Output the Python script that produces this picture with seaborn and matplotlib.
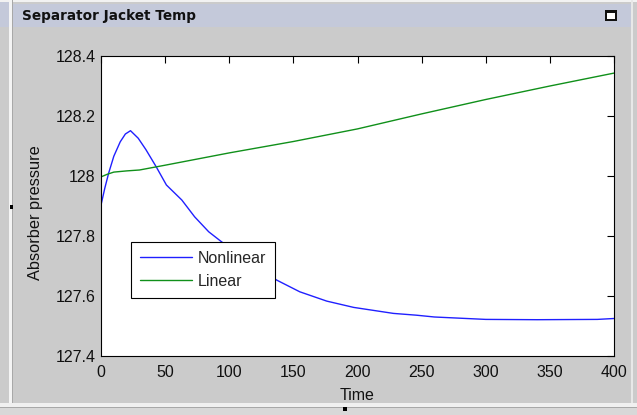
import matplotlib
matplotlib.use("Agg")
import matplotlib.pyplot as plt
from matplotlib.patches import Rectangle
import pandas as pd
import seaborn as sns

# Simulated absorber pressure responses
time_nonlinear = [0, 3, 6, 10, 15, 19, 23, 29, 35, 43, 51, 63, 73, 84, 93,
                  105, 120, 137, 155, 176, 197, 228, 246, 260, 275, 300, 340, 387, 400]
pressure_nonlinear = [127.903, 127.96, 128.01, 128.066, 128.114, 128.14, 128.151,
                      128.126, 128.088, 128.031, 127.97, 127.92, 127.864, 127.814,
                      127.784, 127.745, 127.70, 127.653, 127.614, 127.583, 127.562,
                      127.542, 127.536, 127.53, 127.527, 127.522, 127.521, 127.522,
                      127.525]

time_linear = [0, 5, 10, 20, 30, 50, 100, 150, 200, 250, 300, 350, 400]
pressure_linear = [127.997, 128.006, 128.013, 128.017, 128.02, 128.036, 128.077,
                   128.115, 128.157, 128.207, 128.255, 128.30, 128.343]

x_ticks = [0, 50, 100, 150, 200, 250, 300, 350, 400]
y_ticks = [127.4, 127.6, 127.8, 128.0, 128.2, 128.4]
y_tick_labels = ["127.4", "127.6", "127.8", "128", "128.2", "128.4"]

df = pd.concat([
    pd.DataFrame({"Time": time_nonlinear, "Pressure": pressure_nonlinear, "Model": "Nonlinear"}),
    pd.DataFrame({"Time": time_linear, "Pressure": pressure_linear, "Model": "Linear"}),
], ignore_index=True)

sns.set_theme(style="white")
plt.rcParams["font.family"] = ["Liberation Sans", "DejaVu Sans"]

W, H = 637, 415
fig = plt.figure(figsize=(W / 100, H / 100), dpi=100)
fig.patch.set_facecolor("#cbcbcb")


def px_rect(x0, y0, x1, y1, color, z=0):
    fig.patches.append(Rectangle((x0 / W, 1 - y1 / H), (x1 - x0) / W, (y1 - y0) / H,
                                 transform=fig.transFigure, facecolor=color,
                                 edgecolor="none", zorder=z))


# window frame
px_rect(0, 0, W, 2, "#f2f2f2")
px_rect(0, 2, 9, 27, "#c4c9da")
px_rect(9, 0, 12, H, "#f4f4f4")
px_rect(12, 0, 13, H, "#a8a8a8")
px_rect(13, 4, 631, 27, "#c4c9da")
px_rect(631, 0, 633, H, "#e8e8e8")
px_rect(0, 403, W, 407, "#f0f0f0")
px_rect(0, 407, W, 408, "#a8a8a8")
px_rect(0, 408, W, H, "#d8d8d8")
# window button and resize handles
px_rect(605, 10, 617, 21, "#111111", 1)
px_rect(607, 13, 615, 19, "#ffffff", 2)
px_rect(10, 205, 13, 209, "#000000", 2)
px_rect(343, 407, 347, 411, "#000000", 2)

fig.text(22 / W, 1 - 16 / H, "Separator Jacket Temp", fontsize=9.8, fontweight="bold",
         family=["DejaVu Sans"], va="center", ha="left", color="#111111")

ax = fig.add_axes([101 / W, 1 - 356 / H, (614 - 101) / W, (356 - 56) / H])
sns.lineplot(data=df, x="Time", y="Pressure", hue="Model",
             palette={"Nonlinear": "#2020ff", "Linear": "#10901a"},
             linewidth=1.0, ax=ax, sort=False, estimator=None)

ax.set_xlim(0, 400)
ax.set_ylim(127.4, 128.4)
ax.set_xticks(x_ticks)
ax.set_xticklabels([str(t) for t in x_ticks])
ax.set_yticks(y_ticks)
ax.set_yticklabels(y_tick_labels)
ax.tick_params(direction="in", length=5, width=0.8, color="black",
               labelsize=11.5, top=True, right=True, labelcolor="#111111")
ax.tick_params(axis="x", pad=6.5)
ax.tick_params(axis="y", pad=4)
for s in ax.spines.values():
    s.set_color("black")
    s.set_linewidth(0.8)
ax.set_facecolor("white")
ax.set_xlabel("Time", fontsize=11.5, labelpad=6, color="#111111")
ax.set_ylabel("Absorber pressure", fontsize=11.8, color="#111111")
ax.yaxis.set_label_coords(-0.113, 0.477)

leg = ax.legend(loc="upper left", bbox_to_anchor=(30 / 513, 1 - 186 / 300),
                fontsize=11.5, frameon=True, fancybox=False, edgecolor="black",
                framealpha=1, handlelength=3.3, handletextpad=0.35,
                borderpad=0.55, labelspacing=0.5, borderaxespad=0)
leg.get_frame().set_linewidth(0.8)

fig.savefig("out.png", dpi=100, facecolor=fig.get_facecolor())
